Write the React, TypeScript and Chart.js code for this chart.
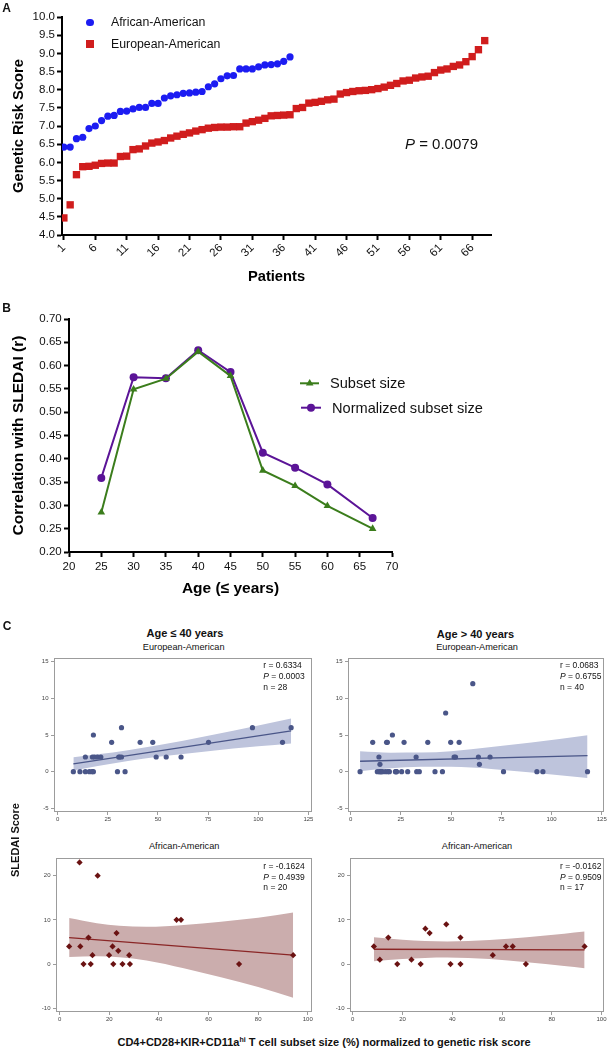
import React, { useEffect, useRef } from "react";
import { Chart, registerables } from "chart.js";

Chart.register(...registerables);

const FONT = '"Liberation Sans", Arial, Helvetica, sans-serif';

// ---------------- Panel A data ----------------
const patientTicks = [1, 6, 11, 16, 21, 26, 31, 36, 41, 46, 51, 56, 61, 66];
const riskTicks = [4.0, 4.5, 5.0, 5.5, 6.0, 6.5, 7.0, 7.5, 8.0, 8.5, 9.0, 9.5, 10.0];
const africanAmericanScores = [
  6.42, 6.42, 6.65, 6.69, 6.93, 7.0, 7.15, 7.27, 7.29, 7.4, 7.41, 7.47, 7.51, 7.51,
  7.62, 7.62, 7.77, 7.83, 7.86, 7.9, 7.91, 7.93, 7.95, 8.08, 8.16, 8.3, 8.38, 8.39,
  8.57, 8.57, 8.57, 8.63, 8.68, 8.69, 8.71, 8.78, 8.9,
];
const europeanAmericanScores = [
  4.47, 4.83, 5.66, 5.88, 5.89, 5.92, 5.97, 5.98, 5.98, 6.16, 6.17, 6.35, 6.37, 6.45,
  6.53, 6.56, 6.6, 6.67, 6.72, 6.77, 6.81, 6.86, 6.9, 6.94, 6.96, 6.97, 6.97, 6.98,
  6.98, 7.08, 7.12, 7.16, 7.21, 7.28, 7.29, 7.3, 7.31, 7.48, 7.51, 7.63, 7.65, 7.68,
  7.72, 7.74, 7.88, 7.92, 7.95, 7.97, 7.98, 8.0, 8.03, 8.07, 8.12, 8.17, 8.24, 8.26,
  8.32, 8.35, 8.37, 8.47, 8.54, 8.57, 8.64, 8.68, 8.77, 8.91, 9.1, 9.35,
];

// ---------------- Panel B data ----------------
const ageCutoffs = [25, 30, 35, 40, 45, 50, 55, 60, 67];
const subsetSizeR = [0.285, 0.549, 0.572, 0.63, 0.578, 0.375, 0.342, 0.299, 0.25];
const normalizedSubsetR = [0.359, 0.575, 0.573, 0.633, 0.586, 0.413, 0.381, 0.345, 0.273];
const ageTicks = [20, 25, 30, 35, 40, 45, 50, 55, 60, 65, 70];
const corrTicks = [0.2, 0.25, 0.3, 0.35, 0.4, 0.45, 0.5, 0.55, 0.6, 0.65, 0.7];

// ---------------- Panel C data ----------------
const eaTicksX = [0, 25, 50, 75, 100, 125];
const eaTicksY = [-5, 0, 5, 10, 15];
const aaTicksX = [0, 20, 40, 60, 80, 100];
const aaTicksY = [-10, 0, 10, 20];

// European-American, age <= 40
const eaYoungX = [7.8, 11.1, 13.8, 15.8, 17.1, 17.8, 29.8, 33.6, 13.8, 17.3, 18.3, 19.8, 21.5, 30.4, 30.9, 31.8, 49.1, 54.1, 61.5, 26.9, 41.1, 47.4, 75.2, 112.1, 17.8, 31.8, 97.1, 116.4];
const eaYoungY = [0, 0, 0, 0, 0, 0, 0, 0, 2, 2, 2, 2, 2, 2, 2, 2, 2, 2, 2, 4, 4, 4, 4, 4, 5, 6, 6, 6];
const eaYoungFitX = [7.8, 116.4];
const eaYoungFitY = [1.07, 5.55];
const eaYoungBandX = [7.8, 20, 35, 50, 75, 100, 116.4];
const eaYoungUpper = [1.97, 2.36, 2.93, 3.6, 4.91, 6.31, 7.25];
const eaYoungLower = [0.17, 0.78, 1.45, 2.02, 2.79, 3.45, 3.85];

// European-American, age > 40
const eaOlderX = [4.7, 13.3, 14.3, 14.8, 15.3, 15.9, 17.3, 18.5, 19.3, 22.3, 22.6, 22.9, 25.4, 28.4, 32.9, 34.2, 42.0, 45.7, 76.1, 92.7, 95.7, 117.9, 14.6, 64.1, 14.1, 32.6, 51.5, 52.2, 63.6, 69.4, 11.0, 17.9, 18.3, 26.6, 38.4, 49.8, 54.0, 20.8, 47.3, 60.8];
const eaOlderY = [0, 0, 0, 0, 0, 0, 0, 0, 0, 0, 0, 0, 0, 0, 0, 0, 0, 0, 0, 0, 0, 0, 1, 1, 2, 2, 2, 2, 2, 2, 4, 4, 4, 4, 4, 4, 4, 5, 8, 12];
const eaOlderFitX = [4.7, 117.9];
const eaOlderFitY = [1.42, 2.2];
const eaOlderBandX = [4.7, 20, 35, 50, 70, 90, 117.9];
const eaOlderUpper = [2.77, 2.59, 2.6, 2.8, 3.36, 3.99, 4.97];
const eaOlderLower = [0.07, 0.45, 0.66, 0.66, 0.38, -0.12, -0.85];

// African-American, age <= 40
const aaYoungX = [3.8, 8.0, 8.3, 9.6, 11.6, 12.5, 13.2, 15.3, 19.9, 21.3, 21.6, 22.9, 23.6, 25.3, 28.0, 28.3, 47.1, 48.9, 72.3, 94.1];
const aaYoungY = [4, 23, 4, 0, 6, 0, 2, 20, 2, 4, 0, 7, 3, 0, 2, 0, 10, 10, 0, 2];
const aaYoungFitX = [3.8, 94.1];
const aaYoungFitY = [6.0, 2.0];
const aaYoungBandX = [3.8, 15, 24, 35, 50, 65, 80, 94.1];
const aaYoungUpper = [10.4, 9.21, 8.67, 8.45, 8.86, 9.58, 10.46, 11.65];
const aaYoungLower = [1.6, 1.79, 1.53, 0.79, -0.96, -3.0, -5.22, -7.65];

// African-American, age > 40
const aaOlderX = [8.5, 10.9, 14.3, 17.9, 23.6, 27.3, 29.2, 30.9, 37.6, 39.3, 43.3, 43.3, 56.3, 61.6, 64.3, 69.6, 93.2];
const aaOlderY = [4, 1, 6, 0, 1, 0, 8, 7, 9, 0, 6, 0, 2, 4, 4, 0, 4];
const aaOlderFitX = [8.5, 93.2];
const aaOlderFitY = [3.35, 3.2];
const aaOlderBandX = [8.5, 20, 38, 55, 70, 85, 93.2];
const aaOlderUpper = [6.05, 5.52, 5.12, 5.42, 6.07, 6.87, 7.35];
const aaOlderLower = [0.65, 1.14, 1.48, 1.12, 0.41, -0.45, -0.95];

// ---------------- Styles ----------------
const BLUE = "#1c1cf2";
const RED = "#d01d1d";
const GREEN = "#3b7d1c";
const PURPLE = "#5b1497";
const EA_POINT = "#4a5688";
const EA_LINE = "#4a5688";
const EA_BAND = "#bec4dc";
const AA_POINT = "#6a1212";
const AA_LINE = "#8a2626";
const AA_BAND = "#cbadad";

function place(L: number, T: number, R: number, B: number, ml: number, mt: number, mr: number, mb: number) {
  return {
    box: { left: L - ml, top: T - mt, width: R - L + ml + mr, height: B - T + mt + mb },
    padding: { left: 0, top: mt, right: mr, bottom: 0 },
    ml,
    mb,
  };
}

function prismAxis(o: any) {
  return {
    type: "linear",
    min: o.min,
    max: o.max,
    afterBuildTicks: (s: any) => {
      s.ticks = o.ticks.map((v: number) => ({ value: v }));
    },
    afterFit: (s: any) => {
      if (o.horizontal) s.height = o.fit;
      else s.width = o.fit;
    },
    ticks: {
      autoSkip: false,
      color: "#111",
      padding: o.tickPad,
      font: { family: FONT, size: o.size },
      callback: (v: any) => o.fmt(Number(v)),
      minRotation: o.rotation || 0,
      maxRotation: o.rotation || 0,
    },
    grid: { display: true, drawOnChartArea: false, drawTicks: true, tickLength: 5, tickWidth: 2, tickColor: "#000" },
    border: { display: true, color: "#000", width: 2 },
    title: {
      display: true,
      text: o.title,
      color: "#000",
      font: { family: FONT, size: o.titleSize, weight: "bold" },
      padding: o.titlePad,
    },
  };
}

function sasAxis(o: any) {
  return {
    type: "linear",
    min: o.min,
    max: o.max,
    afterBuildTicks: (s: any) => {
      s.ticks = o.ticks.map((v: number) => ({ value: v }));
    },
    afterFit: (s: any) => {
      if (o.horizontal) s.height = o.fit;
      else s.width = o.fit;
    },
    ticks: {
      autoSkip: false,
      color: "#444",
      padding: o.horizontal ? 1 : 2.5,
      font: { family: FONT, size: 6 },
      callback: (v: any) => String(v),
      minRotation: 0,
      maxRotation: 0,
    },
    grid: { display: true, drawOnChartArea: false, drawTicks: true, tickLength: 3, tickWidth: 1, tickColor: "#9c9c9c" },
    border: { display: false },
  };
}

const framePlugin = {
  id: "sasFrame",
  afterDatasetsDraw(chart: any) {
    const { ctx, chartArea: a } = chart;
    ctx.save();
    ctx.strokeStyle = "#9c9c9c";
    ctx.lineWidth = 1;
    ctx.strokeRect(Math.round(a.left) + 0.5, Math.round(a.top) + 0.5, Math.round(a.right - a.left) - 1, Math.round(a.bottom - a.top) - 1);
    ctx.restore();
  },
};

const baseOptions = (padding: any) => ({
  responsive: false,
  maintainAspectRatio: false,
  animation: false,
  events: [],
  layout: { padding },
  plugins: { legend: { display: false }, tooltip: { enabled: false } },
});

// ---------------- Panel A ----------------
const aPlace = place(62, 17, 491, 235, 62, 17, 20, 55);
function makeA() {
  return {
    type: "scatter",
    data: {
      datasets: [
        {
          label: "African-American",
          data: africanAmericanScores.map((y, i) => ({ x: i + 1, y })),
          pointStyle: "circle",
          pointRadius: 3.6,
          backgroundColor: BLUE,
          borderWidth: 0,
        },
        {
          label: "European-American",
          data: europeanAmericanScores.map((y, i) => ({ x: i + 1, y })),
          pointStyle: "rect",
          pointRadius: 5.2,
          backgroundColor: RED,
          borderWidth: 0,
        },
      ],
    },
    options: {
      ...baseOptions(aPlace.padding),
      scales: {
        x: prismAxis({
          min: 0.7, max: 69, ticks: patientTicks, fmt: (v: number) => String(v), size: 11.5,
          fit: aPlace.mb, horizontal: true, title: "Patients", titleSize: 14.7,
          titlePad: { top: 0, bottom: 4.2 }, rotation: 45, tickPad: 1,
        }),
        y: prismAxis({
          min: 4, max: 10, ticks: riskTicks, fmt: (v: number) => v.toFixed(1), size: 11.5,
          fit: aPlace.ml, horizontal: false, title: "Genetic Risk Score", titleSize: 14.7,
          titlePad: { top: 10.2, bottom: 0 }, tickPad: 2,
        }),
      },
    },
  };
}

// ---------------- Panel B ----------------
const bPlace = place(69, 319, 392, 552, 69, 14, 20, 50);
function makeB() {
  return {
    type: "line",
    data: {
      datasets: [
        {
          label: "Subset size",
          data: ageCutoffs.map((x, i) => ({ x, y: subsetSizeR[i] })),
          borderColor: GREEN,
          backgroundColor: GREEN,
          borderWidth: 2,
          pointStyle: "triangle",
          pointRadius: 4.4,
          pointBorderWidth: 0,
          tension: 0,
          fill: false,
        },
        {
          label: "Normalized subset size",
          data: ageCutoffs.map((x, i) => ({ x, y: normalizedSubsetR[i] })),
          borderColor: PURPLE,
          backgroundColor: PURPLE,
          borderWidth: 2,
          pointStyle: "circle",
          pointRadius: 4,
          pointBorderWidth: 0,
          tension: 0,
          fill: false,
        },
      ],
    },
    options: {
      ...baseOptions(bPlace.padding),
      scales: {
        x: prismAxis({
          min: 20, max: 70, ticks: ageTicks, fmt: (v: number) => String(v), size: 11.5,
          fit: bPlace.mb, horizontal: true, title: "Age (\u2264 years)", titleSize: 15.5,
          titlePad: { top: 0, bottom: 3.7 }, tickPad: 3,
        }),
        y: prismAxis({
          min: 0.2, max: 0.7, ticks: corrTicks, fmt: (v: number) => v.toFixed(2), size: 11.5,
          fit: bPlace.ml, horizontal: false, title: "Correlation with SLEDAI (r)", titleSize: 15.5,
          titlePad: { top: 9.7, bottom: 0 }, tickPad: 2.3,
        }),
      },
    },
  };
}

// ---------------- Panel C ----------------
function makeScatterPanel(o: any) {
  return () => ({
    type: "scatter",
    data: {
      datasets: [
        {
          data: o.xs.map((x: number, i: number) => ({ x, y: o.ys[i] })),
          pointStyle: o.pointStyle,
          pointRadius: o.pointRadius,
          backgroundColor: o.pointColor,
          borderWidth: 0,
        },
        {
          type: "line",
          data: o.fitX.map((x: number, i: number) => ({ x, y: o.fitY[i] })),
          borderColor: o.lineColor,
          borderWidth: 1.3,
          pointRadius: 0,
          fill: false,
        },
        {
          type: "line",
          data: o.bandX.map((x: number, i: number) => ({ x, y: o.upper[i] })),
          borderColor: "rgba(0,0,0,0)",
          borderWidth: 0,
          pointRadius: 0,
          cubicInterpolationMode: "monotone",
          backgroundColor: o.bandColor,
          fill: "+1",
        },
        {
          type: "line",
          data: o.bandX.map((x: number, i: number) => ({ x, y: o.lower[i] })),
          borderColor: "rgba(0,0,0,0)",
          borderWidth: 0,
          pointRadius: 0,
          cubicInterpolationMode: "monotone",
          fill: false,
        },
      ],
    },
    options: {
      ...baseOptions(o.place.padding),
      scales: {
        x: sasAxis({ min: o.xMin, max: o.xMax, ticks: o.xTicks, fit: o.place.mb, horizontal: true }),
        y: sasAxis({ min: o.yMin, max: o.yMax, ticks: o.yTicks, fit: o.place.ml, horizontal: false }),
      },
    },
    plugins: [framePlugin],
  });
}

const tlPlace = place(54, 658, 312, 812, 20, 10, 12, 16);
const trPlace = place(348, 658, 604, 812, 20, 10, 4, 16);
const blPlace = place(56, 858, 312, 1012, 20, 10, 12, 16);
const brPlace = place(350, 858, 604, 1012, 20, 10, 4, 16);

const makeTL = makeScatterPanel({
  place: tlPlace, xs: eaYoungX, ys: eaYoungY, fitX: eaYoungFitX, fitY: eaYoungFitY,
  bandX: eaYoungBandX, upper: eaYoungUpper, lower: eaYoungLower,
  xMin: -1.85, xMax: 126.8, yMin: -5.5, yMax: 15.5, xTicks: eaTicksX, yTicks: eaTicksY,
  pointStyle: "circle", pointRadius: 2.6, pointColor: EA_POINT, lineColor: EA_LINE, bandColor: EA_BAND,
});
const makeTR = makeScatterPanel({
  place: trPlace, xs: eaOlderX, ys: eaOlderY, fitX: eaOlderFitX, fitY: eaOlderFitY,
  bandX: eaOlderBandX, upper: eaOlderUpper, lower: eaOlderLower,
  xMin: -1.3, xMax: 126.1, yMin: -5.5, yMax: 15.5, xTicks: eaTicksX, yTicks: eaTicksY,
  pointStyle: "circle", pointRadius: 2.6, pointColor: EA_POINT, lineColor: EA_LINE, bandColor: EA_BAND,
});
const makeBL = makeScatterPanel({
  place: blPlace, xs: aaYoungX, ys: aaYoungY, fitX: aaYoungFitX, fitY: aaYoungFitY,
  bandX: aaYoungBandX, upper: aaYoungUpper, lower: aaYoungLower,
  xMin: -1.5, xMax: 101.7, yMin: -10.85, yMax: 24, xTicks: aaTicksX, yTicks: aaTicksY,
  pointStyle: "rectRot", pointRadius: 3.1, pointColor: AA_POINT, lineColor: AA_LINE, bandColor: AA_BAND,
});
const makeBR = makeScatterPanel({
  place: brPlace, xs: aaOlderX, ys: aaOlderY, fitX: aaOlderFitX, fitY: aaOlderFitY,
  bandX: aaOlderBandX, upper: aaOlderUpper, lower: aaOlderLower,
  xMin: -1.1, xMax: 101, yMin: -10.85, yMax: 24, xTicks: aaTicksX, yTicks: aaTicksY,
  pointStyle: "rectRot", pointRadius: 3.1, pointColor: AA_POINT, lineColor: AA_LINE, bandColor: AA_BAND,
});

// ---------------- Components ----------------
function ChartCanvas({ spec, make }: { spec: any; make: () => any }) {
  const ref = useRef<HTMLCanvasElement>(null);
  useEffect(() => {
    const chart = new Chart(ref.current as HTMLCanvasElement, make() as any);
    return () => chart.destroy();
  }, []);
  const b = spec.box;
  return (
    <canvas
      ref={ref}
      width={b.width}
      height={b.height}
      style={{ position: "absolute", left: b.left, top: b.top, width: b.width, height: b.height }}
    />
  );
}

function Txt({ x, y, size, bold, align = "left", rotate, children, color = "#111" }: any) {
  const base = align === "center" ? "translate(-50%,-50%)" : "translate(0,-50%)";
  return (
    <div
      style={{
        position: "absolute",
        left: x,
        top: y,
        transform: base + (rotate ? " rotate(-90deg)" : ""),
        fontFamily: FONT,
        fontSize: size,
        fontWeight: bold ? 700 : 400,
        lineHeight: 1,
        whiteSpace: "nowrap",
        color,
      }}
    >
      {children}
    </div>
  );
}

function Stats({ x, y, r, p, n }: any) {
  return (
    <>
      <Txt x={x} y={y} size={8.5}>r = {r}</Txt>
      <Txt x={x} y={y + 10.7} size={8.5}><i>P</i> = {p}</Txt>
      <Txt x={x} y={y + 21.2} size={8.5}>n = {n}</Txt>
    </>
  );
}

function tri(cx: number, cy: number, r: number) {
  return `${cx},${cy - r} ${cx + 0.866 * r},${cy + 0.5 * r} ${cx - 0.866 * r},${cy + 0.5 * r}`;
}

export default function App() {
  return (
    <div style={{ position: "absolute", left: 0, top: 0, width: 608, height: 1050, background: "#fff", overflow: "hidden" }}>
      {/* Panel A */}
      <ChartCanvas spec={aPlace} make={makeA} />
      <Txt x={6.5} y={7.5} size={12} bold align="center">A</Txt>
      <div style={{ position: "absolute", left: 90 - 3.6, top: 22.3 - 3.6, width: 7.2, height: 7.2, borderRadius: "50%", background: BLUE }} />
      <Txt x={111} y={22.3} size={12.3}>African-American</Txt>
      <div style={{ position: "absolute", left: 90 - 3.7, top: 44 - 3.7, width: 7.4, height: 7.4, background: RED }} />
      <Txt x={111} y={44} size={12.3}>European-American</Txt>
      <Txt x={405} y={143.3} size={15}><i>P</i> = 0.0079</Txt>

      {/* Panel B */}
      <ChartCanvas spec={bPlace} make={makeB} />
      <Txt x={6.5} y={308} size={12} bold align="center">B</Txt>
      <svg style={{ position: "absolute", left: 296, top: 373 }} width={30} height={44}>
        <line x1={4} y1={10.3} x2={23} y2={10.3} stroke={GREEN} strokeWidth={2} />
        <polygon points={tri(13.7, 10.3, 4.4)} fill={GREEN} />
        <line x1={5} y1={34.7} x2={25} y2={34.7} stroke={PURPLE} strokeWidth={2} />
        <circle cx={15} cy={34.7} r={4} fill={PURPLE} />
      </svg>
      <Txt x={330} y={383.3} size={14.6}>Subset size</Txt>
      <Txt x={332} y={407.7} size={14.6}>Normalized subset size</Txt>

      {/* Panel C */}
      <Txt x={7} y={625.5} size={12} bold align="center">C</Txt>
      <Txt x={185} y={633.3} size={11} bold align="center">{"Age \u2264 40 years"}</Txt>
      <Txt x={183.7} y={648} size={9.2} align="center">European-American</Txt>
      <Txt x={475.5} y={634} size={11} bold align="center">{"Age > 40 years"}</Txt>
      <Txt x={477} y={648.3} size={9.2} align="center">European-American</Txt>
      <Txt x={184.2} y={847.3} size={9.2} align="center">African-American</Txt>
      <Txt x={477} y={847.3} size={9.2} align="center">African-American</Txt>

      <ChartCanvas spec={tlPlace} make={makeTL} />
      <ChartCanvas spec={trPlace} make={makeTR} />
      <ChartCanvas spec={blPlace} make={makeBL} />
      <ChartCanvas spec={brPlace} make={makeBR} />

      <Stats x={263.3} y={665.3} r="0.6334" p="0.0003" n="28" />
      <Stats x={560} y={665.3} r="0.0683" p="0.6755" n="40" />
      <Stats x={263.3} y={866} r="-0.1624" p="0.4939" n="20" />
      <Stats x={560} y={866} r="-0.0162" p="0.9509" n="17" />

      <Txt x={15} y={839.5} size={11} bold align="center" rotate>SLEDAI Score</Txt>
      <Txt x={324} y={1041.7} size={11} bold align="center">
        CD4+CD28+KIR+CD11a<span style={{ fontSize: 7, position: "relative", top: -3.5 }}>hi</span> T cell subset size (%) normalized to genetic risk score
      </Txt>
    </div>
  );
}
